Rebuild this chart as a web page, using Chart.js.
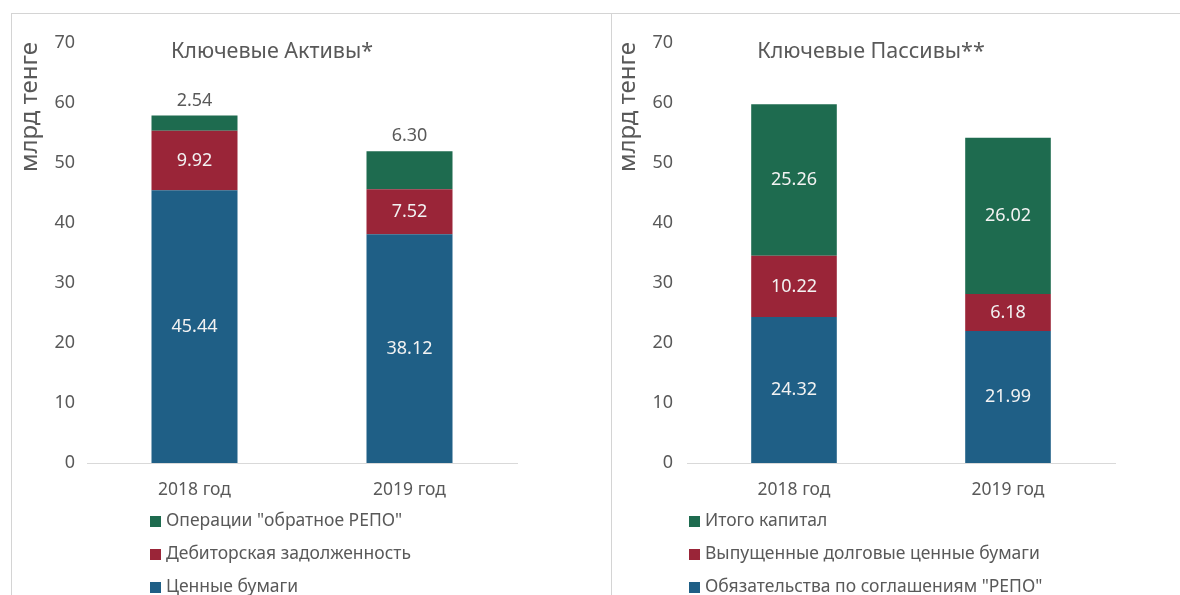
<!DOCTYPE html>
<html lang="ru">
<head>
<meta charset="utf-8">
<title>Ключевые Активы и Пассивы</title>
<script src="https://cdn.jsdelivr.net/npm/chart.js@4.4.1/dist/chart.umd.min.js"></script>
<style>
  html, body { margin: 0; padding: 0; background: #fff; }
  body { width: 1180px; height: 595px; position: relative; overflow: hidden; font-family: "Noto Sans", sans-serif; }
  .panel { position: absolute; top: 13px; height: 582px; border-top: 1px solid #d4d4d4; border-left: 1px solid #d4d4d4; }
  #panelLeft { left: 11px; width: 600px; }
  #panelRight { left: 611px; width: 569px; }
  .box { position: absolute; top: 14px; height: 500px; }
  #boxLeft { left: 12px; width: 598px; }
  #boxRight { left: 613px; width: 567px; }
  .legend { position: absolute; top: 503px; color: #595959; font-size: 17.5px; }
  .legend div { height: 33px; line-height: 33px; white-space: nowrap; }
  .legend span { display: inline-block; width: 11px; height: 11px; margin-right: 5px; vertical-align: -1px; }
  #legendLeft { left: 150px; }
  #legendRight { left: 689px; }
</style>
</head>
<body>
<div class="panel" id="panelLeft"></div>
<div class="panel" id="panelRight"></div>
<div class="box" id="boxLeft"><canvas id="assetsChart"></canvas></div>
<div class="box" id="boxRight"><canvas id="liabChart"></canvas></div>
<div class="legend" id="legendLeft"></div>
<div class="legend" id="legendRight"></div>

<script>
// --- данные ---
const years = ['2018 год', '2019 год'];

const assetNames = ['Ценные бумаги', 'Дебиторская задолженность', 'Операции "обратное РЕПО"'];
const assetSecurities = [45.44, 38.12];
const assetReceivables = [9.92, 7.52];
const assetReverseRepo = [2.54, 6.30];

const liabNames = ['Обязательства по соглашениям "РЕПО"', 'Выпущенные долговые ценные бумаги', 'Итого капитал'];
const liabRepo = [24.32, 21.99];
const liabDebt = [10.22, 6.18];
const liabEquity = [25.26, 26.02];

const yMin = 0;
const yMax = 70;
const yStep = 10;

const BLUE = '#1f5f86';
const RED = '#9a2538';
const GREEN = '#1e6b4f';
const GREY = '#595959';
const FONT = '"Noto Sans", sans-serif';

// подписи значений на столбцах
const barLabels = {
  id: 'barLabels',
  afterDatasetsDraw(chart) {
    const ctx = chart.ctx;
    ctx.save();
    ctx.font = '18px ' + FONT;
    ctx.textAlign = 'center';
    ctx.textBaseline = 'middle';
    chart.data.datasets.forEach((ds, i) => {
      const meta = chart.getDatasetMeta(i);
      meta.data.forEach((bar, j) => {
        const txt = ds.data[j].toFixed(2);
        if (ds.labelOutside) {
          ctx.fillStyle = GREY;
          ctx.fillText(txt, bar.x, bar.y - 15);
        } else {
          ctx.fillStyle = '#f2f2f2';
          ctx.fillText(txt, bar.x, (bar.y + bar.base) / 2);
        }
      });
    });
    ctx.restore();
  }
};

// заголовок и подпись оси
const extraText = {
  id: 'extraText',
  afterDraw(chart, args, opts) {
    const ctx = chart.ctx;
    const area = chart.chartArea;
    ctx.save();
    ctx.fillStyle = GREY;
    ctx.textBaseline = 'middle';
    ctx.textAlign = 'center';
    ctx.font = '21.5px ' + FONT;
    ctx.fillText(opts.title, (area.left + area.right) / 2 + opts.titleShift, 38);
    ctx.translate(opts.axisX, 93);
    ctx.rotate(-Math.PI / 2);
    ctx.font = '24px ' + FONT;
    ctx.fillText('млрд тенге', 0, 0);
    ctx.restore();
  }
};

function makeChart(canvasId, names, series, colors, title, yWidth, padRight, tickPad, axisX, outsideTop) {
  const datasets = series.map((data, i) => ({
    label: names[i],
    data: data,
    backgroundColor: colors[i],
    barPercentage: 0.4,
    categoryPercentage: 1.0,
    labelOutside: outsideTop && i === series.length - 1
  }));

  return new Chart(document.getElementById(canvasId), {
    type: 'bar',
    data: { labels: years, datasets: datasets },
    options: {
      responsive: true,
      maintainAspectRatio: false,
      animation: false,
      layout: { padding: { top: 29, right: padRight, bottom: 0, left: 0 } },
      plugins: {
        legend: { display: false },
        tooltip: { enabled: false },
        extraText: { title: title, titleShift: -30, axisX: axisX }
      },
      scales: {
        x: {
          stacked: true,
          grid: { display: false, drawTicks: false },
          border: { display: true, color: '#d9d9d9' },
          ticks: { color: GREY, font: { family: FONT, size: 17.5 }, padding: 17 },
          afterFit(scale) { scale.height = 51; }
        },
        y: {
          stacked: true,
          min: yMin,
          max: yMax,
          grid: { display: false, drawTicks: false },
          border: { display: false },
          ticks: { stepSize: yStep, color: GREY, font: { family: FONT, size: 18 }, padding: tickPad },
          afterFit(scale) { scale.width = yWidth; }
        }
      }
    },
    plugins: [barLabels, extraText]
  });
}

makeChart('assetsChart', assetNames, [assetSecurities, assetReceivables, assetReverseRepo],
  [BLUE, RED, GREEN], 'Ключевые Активы*', 75, 93, 12, 18, true);
makeChart('liabChart', liabNames, [liabRepo, liabDebt, liabEquity],
  [BLUE, RED, GREEN], 'Ключевые Пассивы**', 74, 65, 14, 15, false);

// легенды (в обратном порядке, как в оригинале)
function buildLegend(elId, names, colors) {
  const el = document.getElementById(elId);
  el.innerHTML = names.map((n, i) => ({ n, c: colors[i] })).reverse()
    .map(it => `<div><span style="background:${it.c}"></span>${it.n.replace(/"/g, '&quot;')}</div>`).join('');
}
buildLegend('legendLeft', assetNames, [BLUE, RED, GREEN]);
buildLegend('legendRight', liabNames, [BLUE, RED, GREEN]);
</script>
</body>
</html>
